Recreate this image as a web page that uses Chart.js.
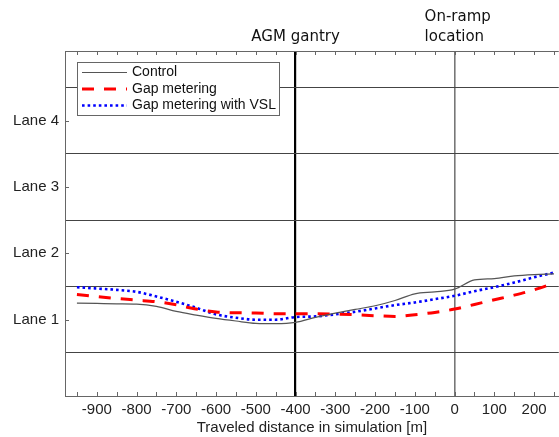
<!DOCTYPE html>
<html>
<head>
<meta charset="utf-8">
<script src="https://cdn.jsdelivr.net/npm/chart.js@4.4.1/dist/chart.umd.min.js"></script>
<style>
  html, body { margin: 0; padding: 0; background: #fff; overflow: hidden; }
  canvas { display: block; }
</style>
</head>
<body>
<canvas id="laneChart" width="559" height="437"></canvas>
<script>
// traveled distance [m] for every sample
const distance = [-950, -900, -850, -800, -750, -700, -650, -600, -550, -500, -450, -400,
  -350, -300, -250, -200, -150, -100, -50, 0, 50, 100, 150, 200, 250];

// mean lane position of the vehicles
const control = [1.25, 1.245, 1.24, 1.235, 1.20, 1.125, 1.07, 1.02, 0.98, 0.945, 0.94, 0.96,
  1.035, 1.10, 1.155, 1.21, 1.29, 1.39, 1.42, 1.46, 1.60, 1.62, 1.66, 1.68, 1.69];
const gapMetering = [1.38, 1.35, 1.32, 1.295, 1.27, 1.225, 1.16, 1.115, 1.105, 1.10, 1.09, 1.09,
  1.09, 1.085, 1.075, 1.06, 1.05, 1.075, 1.11, 1.16, 1.23, 1.30, 1.37, 1.45, 1.55];
const gapMeteringVsl = [1.49, 1.47, 1.45, 1.42, 1.35, 1.27, 1.18, 1.08, 1.03, 1.00, 1.00, 1.04,
  1.05, 1.08, 1.12, 1.17, 1.22, 1.26, 1.31, 1.36, 1.43, 1.49, 1.56, 1.64, 1.71];

const seriesNames = ['Control', 'Gap metering', 'Gap metering with VSL'];

// axes
const xTickValues = [-950, -900, -850, -800, -750, -700, -650, -600, -550, -500, -450, -400,
  -350, -300, -250, -200, -150, -100, -50, 0, 50, 100, 150, 200, 250];
const xTickLabels = [-900, -800, -700, -600, -500, -400, -300, -200, -100, 0, 100, 200];
const laneValues = [1, 2, 3, 4];
const laneLabels = ['Lane 1', 'Lane 2', 'Lane 3', 'Lane 4'];
const laneBorders = [0.5, 1.5, 2.5, 3.5, 4.5];

// marked positions on the road
const markerPositions = [-400, 0];
const markerLabels = [['AGM gantry'], ['On-ramp', 'location']];

function points(values) {
  return distance.map(function (d, i) { return { x: d, y: values[i] }; });
}

var frame = {
  id: 'frame',
  afterDraw(chart) {
    var ctx = chart.ctx;
    var area = chart.chartArea;
    var xs = chart.scales.x;
    var ys = chart.scales.y;
    ctx.save();
    ctx.strokeStyle = '#666';
    ctx.lineWidth = 1;
    // top border
    ctx.beginPath();
    ctx.moveTo(area.left, area.top + 0.5);
    ctx.lineTo(area.right, area.top + 0.5);
    ctx.stroke();
    // inward tick marks
    ctx.beginPath();
    xTickValues.forEach(function (v) {
      var px = Math.round(xs.getPixelForValue(v)) + 0.5;
      ctx.moveTo(px, area.bottom);
      ctx.lineTo(px, area.bottom - 4);
      ctx.moveTo(px, area.top);
      ctx.lineTo(px, area.top + 4);
    });
    laneValues.forEach(function (v) {
      var py = Math.round(ys.getPixelForValue(v)) + 0.5;
      ctx.moveTo(area.left, py);
      ctx.lineTo(area.left + 4, py);
    });
    ctx.stroke();

    // marker captions
    ctx.fillStyle = '#111';
    ctx.font = '15px "DejaVu Sans", sans-serif';
    ctx.textBaseline = 'middle';
    ctx.textAlign = 'center';
    ctx.fillText(markerLabels[0][0], xs.getPixelForValue(markerPositions[0]), 37.5);
    ctx.textAlign = 'left';
    var rampX = xs.getPixelForValue(markerPositions[1]) - 30;
    ctx.fillText(markerLabels[1][0], rampX, 17.5);
    ctx.fillText(markerLabels[1][1], rampX, 37.5);

    // legend box
    ctx.fillStyle = '#fff';
    ctx.fillRect(77.5, 62, 202, 53);
    ctx.strokeStyle = '#666';
    ctx.strokeRect(77.5, 62.5, 202, 53);
    chart.data.datasets.forEach(function (ds, i) {
      var y = 72.5 + i * 16.5;
      ctx.beginPath();
      ctx.setLineDash(ds.borderDash || []);
      ctx.lineWidth = ds.borderWidth;
      ctx.strokeStyle = ds.borderColor;
      ctx.moveTo(82, y);
      ctx.lineTo(127, y);
      ctx.stroke();
      ctx.setLineDash([]);
      ctx.fillStyle = '#111';
      ctx.font = '14px "Liberation Sans", Arial, sans-serif';
      ctx.textAlign = 'left';
      ctx.fillText(ds.label, 132, y);
    });
    ctx.restore();
  }
};

Chart.defaults.font.family = '"Liberation Sans", Arial, sans-serif';
Chart.defaults.color = '#222';

new Chart(document.getElementById('laneChart'), {
  type: 'line',
  data: {
    datasets: [{
      label: seriesNames[0],
      data: points(control),
      borderColor: '#555',
      borderWidth: 1.2,
      pointRadius: 0,
      cubicInterpolationMode: 'monotone'
    }, {
      label: seriesNames[1],
      data: points(gapMetering),
      borderColor: '#ff0000',
      borderWidth: 3,
      borderDash: [12, 10],
      pointRadius: 0,
      cubicInterpolationMode: 'monotone'
    }, {
      label: seriesNames[2],
      data: points(gapMeteringVsl),
      borderColor: '#0000ff',
      borderWidth: 2.6,
      borderDash: [2.6, 3],
      pointRadius: 0,
      cubicInterpolationMode: 'monotone'
    }]
  },
  options: {
    responsive: false,
    animation: false,
    layout: { padding: { top: 51, left: 0, right: 0, bottom: 0 } },
    plugins: {
      legend: { display: false },
      tooltip: { enabled: false }
    },
    scales: {
      x: {
        type: 'linear',
        min: -980,
        max: 262,
        afterBuildTicks: function (scale) {
          scale.ticks = xTickValues.map(function (v) { return { value: v }; });
        },
        afterFit: function (scale) { scale.height = 41; },
        ticks: {
          autoSkip: false,
          maxRotation: 0,
          padding: 5,
          font: { size: 15 },
          callback: function (v) { return xTickLabels.indexOf(v) >= 0 ? String(v) : ''; }
        },
        grid: {
          drawTicks: false,
          color: function (c) {
            if (!c.tick) return 'rgba(0,0,0,0)';
            if (c.tick.value === markerPositions[0]) return '#000';
            if (c.tick.value === markerPositions[1]) return '#777';
            return 'rgba(0,0,0,0)';
          },
          lineWidth: function (c) {
            if (c.tick && c.tick.value === markerPositions[0]) return 2.2;
            if (c.tick && c.tick.value === markerPositions[1]) return 1.6;
            return 1;
          }
        },
        border: { color: '#666', width: 1 },
        title: {
          display: true,
          text: 'Traveled distance in simulation [m]',
          font: { size: 15 },
          padding: { top: 0, bottom: 0 }
        }
      },
      y: {
        type: 'linear',
        min: -0.15,
        max: 5.05,
        afterBuildTicks: function (scale) {
          scale.ticks = laneBorders.concat(laneValues).sort().map(function (v) { return { value: v }; });
        },
        afterFit: function (scale) { scale.width = 65; },
        ticks: {
          autoSkip: false,
          padding: 6,
          font: { size: 15 },
          callback: function (v) {
            var i = laneValues.indexOf(v);
            return i >= 0 ? laneLabels[i] : '';
          }
        },
        grid: {
          drawTicks: false,
          color: function (c) {
            if (c.tick && laneBorders.indexOf(c.tick.value) >= 0) return '#444';
            return 'rgba(0,0,0,0)';
          }
        },
        border: { color: '#666', width: 1 }
      }
    }
  },
  plugins: [frame]
});
</script>
</body>
</html>
